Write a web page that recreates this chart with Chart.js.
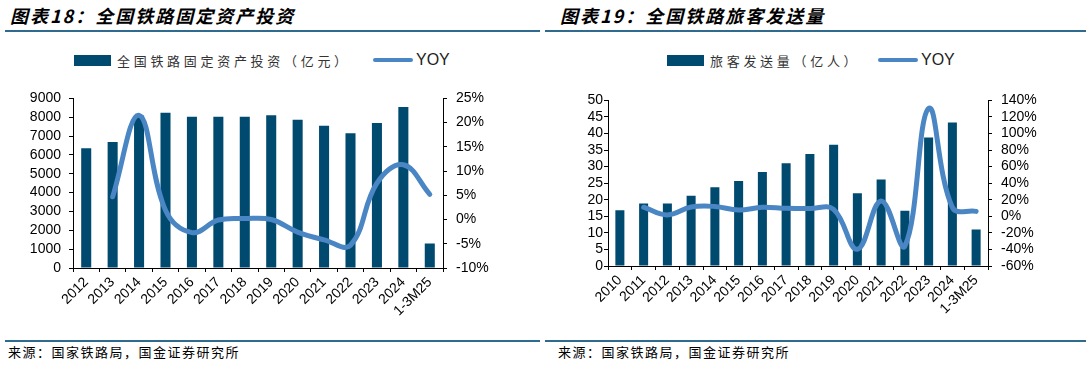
<!DOCTYPE html>
<html>
<head>
<meta charset="utf-8">
<script src="https://cdn.jsdelivr.net/npm/chart.js@4.4.0/dist/chart.umd.min.js"></script>
<style>
  body { margin: 0; width: 1086px; height: 365px; background: #fff; position: relative; overflow: hidden; font-family: "Noto Sans CJK SC", sans-serif; }
  .title { position: absolute; top: 2px; font-size: 18px; font-weight: bold; font-style: italic; letter-spacing: 2px; color: #000; white-space: nowrap; }
  .rule { position: absolute; height: 2px; background: #2e6b8e; }
  .lg { position: absolute; top: 50px; height: 20px; display: flex; align-items: center; white-space: nowrap; }
  .lg-text { font-size: 13px; letter-spacing: 3.7px; color: #333; }
  .lg-yoy { font-family: "Liberation Sans", Arial, sans-serif; font-size: 16px; color: #222; }
  .sw-bar { display: inline-block; width: 37px; height: 11px; background: #004a70; margin-right: 6px; }
  .sw-line { display: inline-block; width: 40px; height: 4px; border-radius: 2px; background: #4a86c4; margin-right: 3px; }
  .src { position: absolute; top: 342px; font-size: 13px; letter-spacing: 1.5px; color: #000; white-space: nowrap; }
  .box { position: absolute; }
</style>
</head>
<body>
<div class="title" style="left:10px">图表18：全国铁路固定资产投资</div>
<div class="rule" style="left:5px;width:535px;top:30px"></div>
<div class="lg" style="left:74px"><span class="sw-bar"></span><span class="lg-text">全国铁路固定资产投资（亿元）</span></div>
<div class="lg" style="left:373px"><span class="sw-line"></span><span class="lg-yoy">YOY</span></div>
<div class="box" style="left:0;top:81px"><canvas id="chartL" width="540" height="247"></canvas></div>
<div class="rule" style="left:5px;width:535px;top:340px"></div>
<div class="src" style="left:8px">来源：国家铁路局，国金证券研究所</div>

<div class="title" style="left:560px">图表19：全国铁路旅客发送量</div>
<div class="rule" style="left:545px;width:541px;top:30px"></div>
<div class="lg" style="left:667px"><span class="sw-bar"></span><span class="lg-text">旅客发送量（亿人）</span></div>
<div class="lg" style="left:878px"><span class="sw-line"></span><span class="lg-yoy">YOY</span></div>
<div class="box" style="left:545px;top:83px"><canvas id="chartR" width="541" height="243"></canvas></div>
<div class="rule" style="left:545px;width:541px;top:340px"></div>
<div class="src" style="left:558px">来源：国家铁路局，国金证券研究所</div>

<script>
// left chart: railway fixed asset investment
var labelsL = ['2012', '2013', '2014', '2015', '2016', '2017', '2018', '2019', '2020', '2021', '2022', '2023', '2024', '1-3M25'];
var investL = [6350, 6680, 8090, 8240, 8020, 8020, 8030, 8100, 7870, 7550, 7150, 7700, 8550, 1300];
var yoyL = [null, 4.7, 21.5, 1.9, -2.7, -0.1, 0.2, 0.0, -2.6, -4.2, -5.3, 7.5, 11.3, 5.2];

// right chart: railway passengers
var labelsR = ['2010', '2011', '2012', '2013', '2014', '2015', '2016', '2017', '2018', '2019', '2020', '2021', '2022', '2023', '2024', '1-3M25'];
var passR = [16.8, 18.9, 18.9, 21.2, 23.8, 25.7, 28.4, 31.0, 33.8, 36.6, 22.0, 26.1, 16.7, 38.8, 43.3, 11.0];
var yoyR = [null, 11.0, 1.7, 11.2, 11.9, 7.5, 11.0, 9.6, 9.4, 8.4, -39.8, 18.5, -35.9, 130.4, 10.8, 6.0];

var BAR = '#004a70';
var LINE = '#4a86c4';
var tickFont = { family: '"Liberation Sans", Arial, sans-serif', size: 14 };

function makeChart(id, labels, bars, yoy, opt) {
    var ctx = document.getElementById(id).getContext('2d');
    return new Chart(ctx, {
        data: {
            labels: labels,
            datasets: [{
                type: 'line',
                data: yoy,
                yAxisID: 'y1',
                borderColor: LINE,
                borderWidth: 5,
                pointRadius: 0,
                tension: 0.4,
                borderCapStyle: 'round',
                order: 0
            }, {
                type: 'bar',
                data: bars,
                yAxisID: 'y',
                backgroundColor: BAR,
                barPercentage: 0.38,
                categoryPercentage: 1,
                order: 1
            }]
        },
        options: {
            responsive: false,
            animation: false,
            layout: { padding: { top: 4, left: 0, right: 0, bottom: 0 } },
            plugins: { legend: { display: false }, tooltip: { enabled: false } },
            scales: {
                x: {
                    grid: { drawOnChartArea: false, tickLength: 4, color: '#000' },
                    border: { color: '#000' },
                    ticks: { color: '#000', font: tickFont, autoSkip: false, minRotation: 45, maxRotation: 45, padding: 2 },
                    afterFit: function (s) { s.height = 60; }
                },
                y: {
                    position: 'left',
                    min: opt.yMin, max: opt.yMax,
                    grid: { drawOnChartArea: false, tickLength: 4, color: '#000' },
                    border: { color: '#000' },
                    ticks: { color: '#000', font: tickFont, stepSize: opt.yStep, autoSkip: false, padding: opt.leftPad,
                        callback: function (v) { return String(v); } },
                    afterFit: function (s) { s.width = opt.leftW; }
                },
                y1: {
                    position: 'right',
                    min: opt.rMin, max: opt.rMax,
                    grid: { drawOnChartArea: false, tickLength: 4, color: '#000' },
                    border: { color: '#000' },
                    ticks: { color: '#000', font: tickFont, stepSize: opt.rStep, autoSkip: false, padding: 9,
                        callback: function (v) { return v + '%'; } },
                    afterFit: function (s) { s.width = opt.rightW; }
                }
            }
        }
    });
}

var chartL = makeChart('chartL', labelsL, investL, yoyL,
    { yMin: 0, yMax: 9000, yStep: 1000, rMin: -10, rMax: 25, rStep: 5, leftW: 73, rightW: 97, leftPad: 8 });
var chartR = makeChart('chartR', labelsR, passR, yoyR,
    { yMin: 0, yMax: 50, yStep: 5, rMin: -60, rMax: 140, rStep: 20, leftW: 63, rightW: 98, leftPad: 1 });
</script>
</body>
</html>
